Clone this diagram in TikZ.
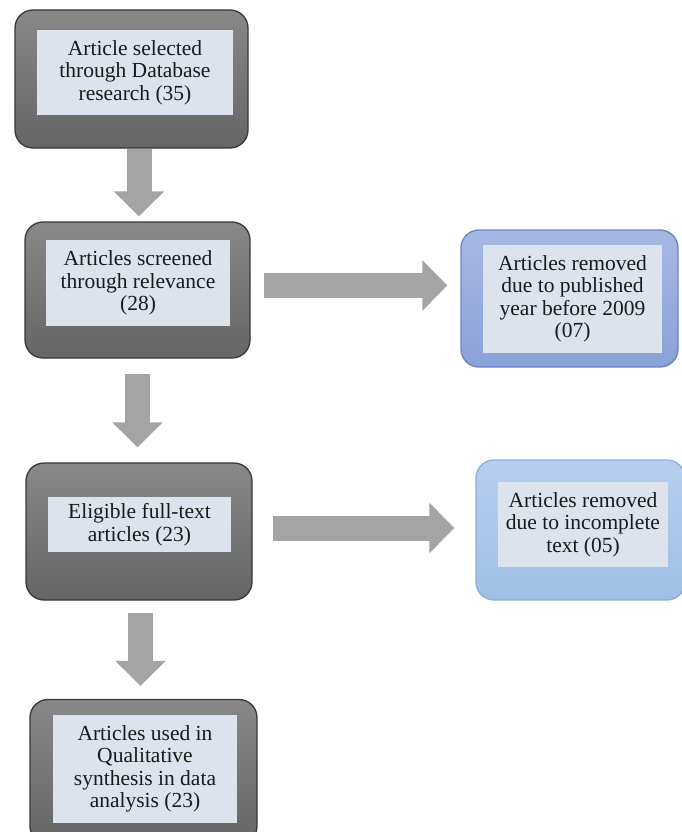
\documentclass[tikz,border=0pt]{standalone}
\usepackage{fontspec}
\setmainfont{Liberation Serif}
\usetikzlibrary{positioning, arrows.meta, calc}

\definecolor{greytop}{HTML}{888888}
\definecolor{greybot}{HTML}{656565}
\definecolor{greyline}{HTML}{383838}
\definecolor{innerfill}{HTML}{DCE3ED}
\definecolor{arrowfill}{HTML}{A4A4A4}
\definecolor{bluetop}{HTML}{A7B8E4}
\definecolor{bluebot}{HTML}{8AA1D8}
\definecolor{blueline}{HTML}{6B82C4}
\definecolor{skytop}{HTML}{B6CFEE}
\definecolor{skybot}{HTML}{A0BEE7}
\definecolor{skyline}{HTML}{8CAEDC}
\definecolor{textcol}{HTML}{1A1A1A}

\begin{document}
\begin{tikzpicture}[x=1pt,y=-1pt,font=\fontsize{21.5}{22.5}\selectfont,
    outer/.style={draw=greyline,line width=1.3pt,rounded corners=18pt,top color=greytop,bottom color=greybot},
    blueouter/.style={draw=blueline,line width=1.3pt,rounded corners=18pt,top color=bluetop,bottom color=bluebot},
    skyouter/.style={draw=skyline,line width=1.3pt,rounded corners=18pt,top color=skytop,bottom color=skybot},
    inner/.style={fill=innerfill,align=center,inner sep=0pt,text=textcol},
    fat/.style={line width=25pt,draw=arrowfill,-{Triangle[length=25pt,width=49pt]}}]
    \useasboundingbox (0,0) rectangle (681,832);

    % outer boxes
    \node[outer,minimum width=233pt,minimum height=138pt] (b1) at (131.5,79) {};
    \node[outer,minimum width=225pt,minimum height=136pt] (b2) at (137.5,290) {};
    \node[blueouter,minimum width=217pt,minimum height=137pt] (b3) at (569.5,298.5) {};
    \node[outer,minimum width=226pt,minimum height=137pt] (b4) at (139,531.5) {};
    \node[skyouter,minimum width=209pt,minimum height=140pt] (b5) at (580.5,530) {};
    \node[outer,minimum width=227pt,minimum height=145pt] (b6) at (143.5,772) {};

    % text boxes
    \node[inner,minimum width=196pt,minimum height=85pt] (t1) at (135,72.5) {Article selected\\through Database\\research (35)};
    \node[inner,minimum width=184pt,minimum height=86pt] (t2) at (138,283) {Articles screened\\through relevance\\(28)};
    \node[inner,minimum width=179pt,minimum height=108pt] (t3) at (572.5,299) {Articles removed\\due to published\\year before 2009\\(07)};
    \node[inner,minimum width=183pt,minimum height=55pt] (t4) at (139.5,524.5) {Eligible full-text\\articles (23)};
    \node[inner,minimum width=170pt,minimum height=85pt] (t5) at (583,524.5) {Articles removed\\due to incomplete\\text (05)};
    \node[inner,minimum width=184pt,minimum height=108pt] (t6) at (145,769) {Articles used in\\Qualitative\\synthesis in data\\analysis (23)};

    % block arrows
    \draw[fat,shorten >=5pt] ([xshift=7.5pt]b1.south) -- ([xshift=7.5pt]b1.south |- b2.north);
    \draw[fat,shorten <=15pt,shorten >=15pt] (b2.south) -- (b2.south |- b4.north);
    \draw[fat,shorten <=12pt,shorten >=13pt] ([xshift=1.5pt]b4.south) -- ([xshift=1.5pt]b4.south |- b6.north);
    \draw[fat,shorten <=13pt,shorten >=13pt] ([yshift=4.5pt]b2.east) -- ([yshift=4.5pt]b2.east -| b3.west);
    \draw[fat,shorten <=20pt,shorten >=21pt] ([yshift=3.5pt]b4.east) -- ([yshift=3.5pt]b4.east -| b5.west);
\end{tikzpicture}
\end{document}
